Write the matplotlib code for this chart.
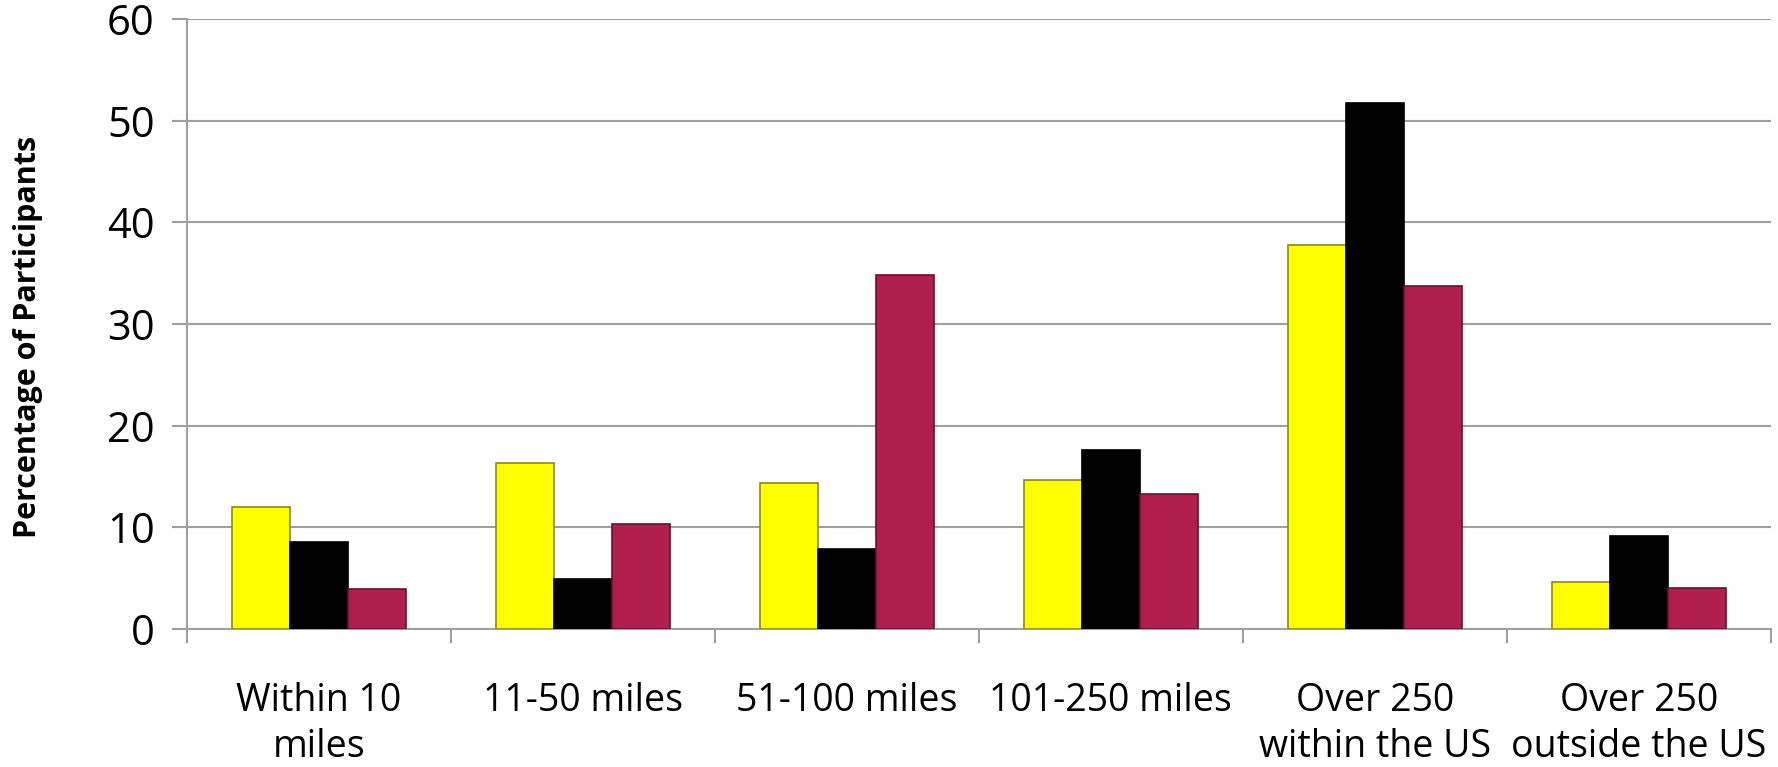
import matplotlib.pyplot as plt
import numpy as np

categories = ['Within 10\nmiles', '11-50 miles', '51-100 miles', '101-250 miles',
              'Over 250\nwithin the US', 'Over 250\noutside the US']
yellow_vals = [12.0, 16.3, 14.4, 14.7, 37.8, 4.6]
black_vals = [8.6, 4.9, 7.9, 17.6, 51.8, 9.1]
red_vals = [3.9, 10.3, 34.8, 13.3, 33.7, 4.0]

plt.rcParams['font.family'] = ['Open Sans', 'DejaVu Sans']

fig = plt.figure(figsize=(17.78, 7.67), dpi=100)
ax = fig.add_axes([0.105, 0.18, 0.891, 0.795])

x = np.arange(len(categories))
w = 0.22
series = [(yellow_vals, '#FFFF00', '#8a8a20'),
          (black_vals, '#000000', '#000000'),
          (red_vals, '#B01E4E', '#6a1030')]
for i, (vals, col, edge) in enumerate(series):
    ax.bar(x + (i - 1) * w, vals, width=w, color=col, edgecolor=edge,
           linewidth=1.2, zorder=3)

ax.set_xlim(-0.5, len(categories) - 0.5)
ax.set_ylim(0, 60)
ax.set_yticks(range(0, 61, 10))
ax.yaxis.grid(True, color='#A0A0A0', linewidth=1.5, zorder=0)

ax.set_xticks(x)
ax.set_xticklabels(categories, fontsize=27, linespacing=1.3)
ax.set_xticks(np.arange(-0.5, len(categories), 1), minor=True)
ax.tick_params(axis='x', which='major', length=0, pad=38)
ax.tick_params(axis='x', which='minor', length=10, width=1.5, color='#A0A0A0')
ax.tick_params(axis='y', labelsize=30, length=11, width=1.5, color='#A0A0A0', pad=12)

for s in ['top', 'right']:
    ax.spines[s].set_visible(False)
for s in ['left', 'bottom']:
    ax.spines[s].set_color('#A0A0A0')
    ax.spines[s].set_linewidth(1.5)

ax.set_ylabel('Percentage of Participants', fontsize=22, fontweight='bold')
ax.yaxis.set_label_coords(-0.091, 0.479)

fig.savefig('out.png', dpi=100)
